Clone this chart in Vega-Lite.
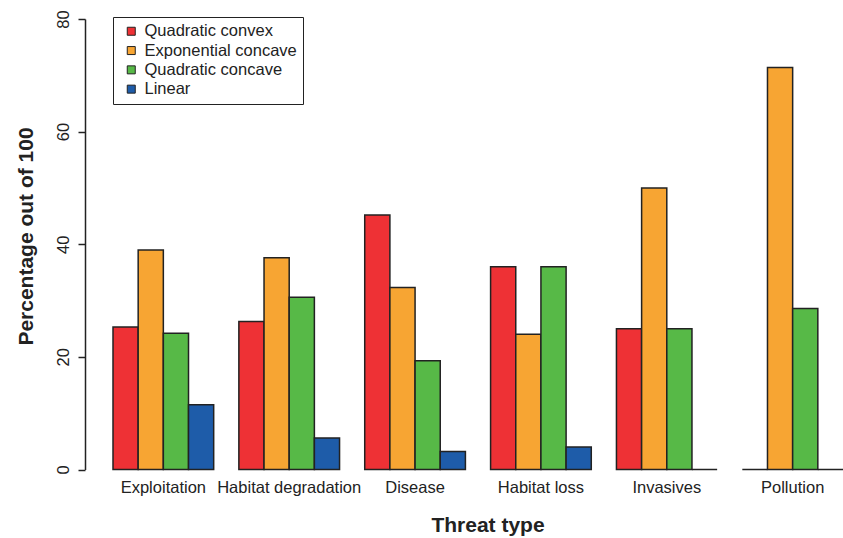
{
  "$schema": "https://vega.github.io/schema/vega-lite/v6.json",
  "width": 758,
  "height": 450.5,
  "autosize": {"type": "none"},
  "padding": {"left": 85, "top": 19, "right": 0, "bottom": 68.5},
  "background": "white",
  "config": {"view": {"stroke": null}, "font": "Liberation Sans"},
  "data": {
    "values": [
      {"threat": "Exploitation", "model": "Quadratic convex", "pct": 25.3},
      {"threat": "Exploitation", "model": "Exponential concave", "pct": 39.0},
      {"threat": "Exploitation", "model": "Quadratic concave", "pct": 24.2},
      {"threat": "Exploitation", "model": "Linear", "pct": 11.5},
      {"threat": "Habitat degradation", "model": "Quadratic convex", "pct": 26.3},
      {"threat": "Habitat degradation", "model": "Exponential concave", "pct": 37.6},
      {"threat": "Habitat degradation", "model": "Quadratic concave", "pct": 30.6},
      {"threat": "Habitat degradation", "model": "Linear", "pct": 5.6},
      {"threat": "Disease", "model": "Quadratic convex", "pct": 45.2},
      {"threat": "Disease", "model": "Exponential concave", "pct": 32.3},
      {"threat": "Disease", "model": "Quadratic concave", "pct": 19.3},
      {"threat": "Disease", "model": "Linear", "pct": 3.2},
      {"threat": "Habitat loss", "model": "Quadratic convex", "pct": 36.0},
      {"threat": "Habitat loss", "model": "Exponential concave", "pct": 24.0},
      {"threat": "Habitat loss", "model": "Quadratic concave", "pct": 36.0},
      {"threat": "Habitat loss", "model": "Linear", "pct": 4.0},
      {"threat": "Invasives", "model": "Quadratic convex", "pct": 25.0},
      {"threat": "Invasives", "model": "Exponential concave", "pct": 50.0},
      {"threat": "Invasives", "model": "Quadratic concave", "pct": 25.0},
      {"threat": "Invasives", "model": "Linear", "pct": 0},
      {"threat": "Pollution", "model": "Quadratic convex", "pct": 0},
      {"threat": "Pollution", "model": "Exponential concave", "pct": 71.4},
      {"threat": "Pollution", "model": "Quadratic concave", "pct": 28.6},
      {"threat": "Pollution", "model": "Linear", "pct": 0}
    ]
  },
  "mark": {"type": "bar", "stroke": "#222222", "strokeWidth": 1.5},
  "encoding": {
    "x": {
      "field": "threat",
      "type": "nominal",
      "sort": ["Exploitation", "Habitat degradation", "Disease", "Habitat loss", "Invasives", "Pollution"],
      "scale": {"paddingInner": 0.2, "paddingOuter": 0, "range": [28, 758]},
      "axis": {
        "domain": false,
        "ticks": false,
        "labelAngle": 0,
        "labelFontSize": 16.5,
        "labelColor": "#222222",
        "labelPadding": 10,
        "title": "Threat type",
        "titleFontSize": 21,
        "titleFontWeight": "bold",
        "titleColor": "#222222",
        "titleX": 402.5,
        "titleY": 62,
        "titleBaseline": "alphabetic",
        "titleAnchor": "middle"
      }
    },
    "xOffset": {
      "field": "model",
      "type": "nominal",
      "sort": ["Quadratic convex", "Exponential concave", "Quadratic concave", "Linear"],
      "scale": {"paddingInner": 0, "paddingOuter": 0}
    },
    "y": {
      "field": "pct",
      "type": "quantitative",
      "scale": {"domain": [0, 80], "nice": false, "zero": true},
      "axis": {
        "values": [0, 20, 40, 60, 80],
        "grid": false,
        "domainColor": "#222222",
        "domainWidth": 1.5,
        "tickColor": "#222222",
        "tickWidth": 1.5,
        "tickSize": 7,
        "labelAngle": -90,
        "labelAlign": "center",
        "labelBaseline": "bottom",
        "labelFontSize": 16.5,
        "labelColor": "#222222",
        "labelPadding": 7,
        "title": "Percentage out of 100",
        "titleFontSize": 21,
        "titleFontWeight": "bold",
        "titleColor": "#222222",
        "titleAngle": -90,
        "titleX": -53,
        "titleY": 217,
        "titleAlign": "center",
        "titleBaseline": "alphabetic"
      }
    },
    "fill": {
      "field": "model",
      "type": "nominal",
      "scale": {
        "domain": ["Quadratic convex", "Exponential concave", "Quadratic concave", "Linear"],
        "range": ["#EE3135", "#F7A533", "#57B947", "#1E5CA9"]
      },
      "legend": {
        "title": null,
        "orient": "none",
        "legendX": 28,
        "legendY": -2,
        "strokeColor": "#222222",
        "fillColor": "white",
        "padding": 6,
        "symbolOffset": 4,
        "symbolType": "square",
        "symbolSize": 64,
        "symbolStrokeColor": "#222222",
        "symbolStrokeWidth": 1,
        "labelFontSize": 16.5,
        "labelColor": "#222222",
        "labelOffset": 5,
        "rowPadding": 2.3
      }
    }
  }
}
